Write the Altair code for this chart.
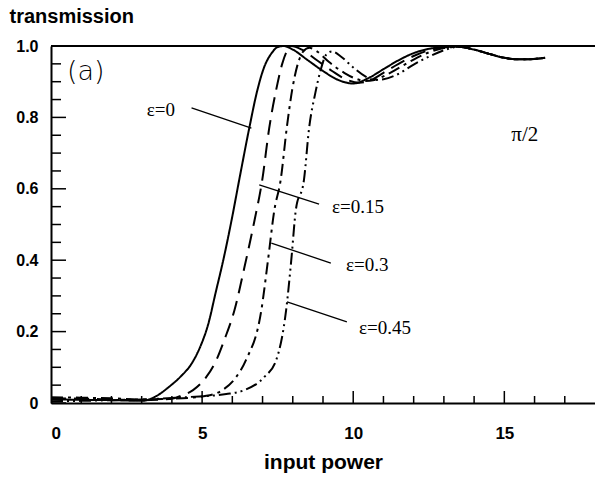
import altair as alt
import pandas as pd

# ---- curve data ----
x_e0 = [0, 1, 2, 3, 3.5, 3.9, 4.3, 4.65, 4.95, 5.2, 5.45, 5.7, 5.97, 6.25, 6.56, 6.83, 7.05,
        7.3, 7.5, 7.7, 8.0, 8.5, 9.0, 9.5, 10.0, 10.5, 11.0, 11.5, 12.0, 12.5, 13.0, 13.5,
        14.0, 14.5, 15.0, 15.4, 15.8, 16.35]
y_e0 = [0.010, 0.009, 0.008, 0.006, 0.02, 0.045, 0.075, 0.11, 0.16, 0.22, 0.31, 0.40, 0.51,
        0.635, 0.77, 0.877, 0.94, 0.98, 0.997, 1.0, 0.99, 0.96, 0.93, 0.905, 0.895, 0.91,
        0.935, 0.96, 0.98, 0.992, 0.997, 0.998, 0.99, 0.978, 0.967, 0.963, 0.963, 0.967]

x_e15 = [0, 1, 2, 3, 4, 4.3, 4.7, 5.14, 5.47, 5.75, 6.07, 6.4, 6.73, 6.99, 7.22, 7.45, 7.65,
         7.8, 7.95, 8.3, 8.8, 9.3, 9.8, 10.2, 10.6, 11.0, 11.5, 12.0, 12.5, 13.0, 13.5, 14.0,
         14.5, 15.0, 15.4, 15.8, 16.35]
y_e15 = [0.013, 0.012, 0.010, 0.008, 0.012, 0.02, 0.036, 0.073, 0.12, 0.18, 0.26, 0.38, 0.51,
         0.625, 0.77, 0.877, 0.95, 0.985, 1.0, 0.99, 0.96, 0.93, 0.905, 0.897, 0.905, 0.925,
         0.95, 0.972, 0.988, 0.996, 0.998, 0.99, 0.978, 0.967, 0.963, 0.963, 0.967]

x_e30 = [0, 1, 2, 3, 4, 5.14, 5.67, 6.13, 6.45, 6.96, 7.18, 7.39, 7.6, 7.8, 7.98, 8.15, 8.35,
         8.55, 8.8, 9.2, 9.7, 10.1, 10.4, 10.7, 11.0, 11.5, 12.0, 12.5, 13.0, 13.5, 14.0,
         14.5, 15.0, 15.4, 15.8, 16.35]
y_e30 = [0.016, 0.015, 0.013, 0.010, 0.012, 0.02, 0.036, 0.073, 0.12, 0.26, 0.40, 0.54, 0.625,
         0.77, 0.877, 0.945, 0.985, 0.995, 0.985, 0.955, 0.925, 0.908, 0.902, 0.905, 0.915,
         0.938, 0.962, 0.982, 0.994, 0.998, 0.99, 0.978, 0.967, 0.963, 0.963, 0.967]

x_e45 = [0, 1, 2, 3, 4, 4.6, 5.8, 6.4, 7.06, 7.45, 7.78, 7.95, 8.1, 8.37, 8.54, 8.75, 8.93,
         9.1, 9.3, 9.6, 10.0, 10.4, 10.7, 11.0, 11.5, 12.0, 12.5, 13.0, 13.5, 14.0, 14.5,
         15.0, 15.4, 15.8, 16.35]
y_e45 = [0.005, 0.006, 0.008, 0.010, 0.014, 0.017, 0.025, 0.036, 0.073, 0.12, 0.26, 0.40,
         0.54, 0.625, 0.77, 0.87, 0.935, 0.975, 0.985, 0.97, 0.94, 0.915, 0.905, 0.907,
         0.922, 0.948, 0.97, 0.988, 0.998, 0.99, 0.978, 0.967, 0.963, 0.963, 0.967]

eps_labels = ["ε=0", "ε=0.15", "ε=0.3", "ε=0.45"]

# ---- annotations ----
lab_x = [3.17, 9.30, 9.76, 10.19]
lab_y = [0.821, 0.549, 0.387, 0.21]
lead_x1 = [4.65, 6.89, 7.29, 7.81]
lead_y1 = [0.827, 0.611, 0.448, 0.283]
lead_x2 = [6.63, 8.87, 9.26, 9.79]
lead_y2 = [0.77, 0.557, 0.392, 0.227]

# ---- ticks ----
y_major = [0, 0.2, 0.4, 0.6, 0.8, 1.0]
y_minor = [0.05, 0.1, 0.15, 0.25, 0.3, 0.35, 0.45, 0.5, 0.55, 0.65, 0.7, 0.75, 0.85, 0.9, 0.95]
x_major = [5, 10, 15]
x_minor = [1, 2, 3, 4, 6, 7, 8, 9, 11, 12, 13, 14, 16, 17]

rows = []
for name, xs_, ys_ in zip(eps_labels, [x_e0, x_e15, x_e30, x_e45], [y_e0, y_e15, y_e30, y_e45]):
    for i, (a, b) in enumerate(zip(xs_, ys_)):
        rows.append({"x": a, "y": b, "eps": name, "order": i})
curves = pd.DataFrame(rows)

W, H = 544, 357
xs = alt.Scale(domain=[0, 18], nice=False)
ys = alt.Scale(domain=[0, 1.0], nice=False)

base_x = alt.X("x:Q", scale=xs, axis=alt.Axis(
    values=[0, 5, 10, 15], format="d", ticks=False, grid=False, domainColor="black",
    domainWidth=2, labelFont="Liberation Sans", labelFontWeight="bold", labelFontSize=17,
    labelColor="black", labelPadding=22, title="input power", titleFont="Liberation Sans",
    titleFontWeight="bold", titleFontSize=21, titleColor="black", titlePadding=10))
base_y = alt.Y("y:Q", scale=ys, axis=alt.Axis(
    values=y_major, ticks=False, grid=False, domainColor="black", domainWidth=2,
    labelExpr="datum.value == 0 ? '0' : format(datum.value, '.1f')",
    labelFont="Liberation Sans", labelFontWeight="bold", labelFontSize=16, labelColor="black",
    labelPadding=13, title="transmission", titleAngle=0, titleX=-42, titleY=-24,
    titleAlign="left", titleBaseline="alphabetic", titleFont="Liberation Sans",
    titleFontWeight="bold", titleFontSize=20, titleColor="black"))

lines = alt.Chart(curves).mark_line(color="black", strokeWidth=2, interpolate="monotone").encode(
    x=base_x, y=base_y, order="order:Q",
    strokeDash=alt.StrokeDash("eps:N", scale=alt.Scale(
        domain=eps_labels, range=[[1, 0], [15, 8], [12, 5, 3, 5], [12, 4, 2, 4, 2, 4]]),
        legend=None),
    detail="eps:N")

top = alt.Chart(pd.DataFrame({"y": [1.0]})).mark_rule(color="black", strokeWidth=2).encode(
    y=alt.Y("y:Q", scale=ys), x=alt.value(0), x2=alt.value(W))

ytm = alt.Chart(pd.DataFrame({"y": y_major})).mark_rule(color="black", strokeWidth=1.5).encode(
    y=alt.Y("y:Q", scale=ys), x=alt.value(0), x2=alt.value(15))
ytn = alt.Chart(pd.DataFrame({"y": y_minor})).mark_rule(color="black", strokeWidth=1.5).encode(
    y=alt.Y("y:Q", scale=ys), x=alt.value(0), x2=alt.value(10))
xtm = alt.Chart(pd.DataFrame({"x": x_major})).mark_rule(color="black", strokeWidth=1.5).encode(
    x=alt.X("x:Q", scale=xs), y=alt.value(H), y2=alt.value(H - 12))
xtn = alt.Chart(pd.DataFrame({"x": x_minor})).mark_rule(color="black", strokeWidth=1.5).encode(
    x=alt.X("x:Q", scale=xs), y=alt.value(H), y2=alt.value(H - 7))

leaders = alt.Chart(pd.DataFrame({"x1": lead_x1, "y1": lead_y1, "x2": lead_x2, "y2": lead_y2})).mark_rule(
    color="black", strokeWidth=1.3).encode(
    x=alt.X("x1:Q", scale=xs), y=alt.Y("y1:Q", scale=ys), x2="x2:Q", y2="y2:Q")

labels = alt.Chart(pd.DataFrame({"x": lab_x, "y": lab_y, "t": eps_labels})).mark_text(
    align="left", baseline="middle", font="Liberation Serif", fontSize=19, color="black").encode(
    x=alt.X("x:Q", scale=xs), y=alt.Y("y:Q", scale=ys), text="t:N")

pi_lab = alt.Chart(pd.DataFrame({"x": [15.23], "y": [0.75], "t": ["π/2"]})).mark_text(
    align="left", baseline="middle", font="Liberation Serif", fontSize=21, color="black").encode(
    x=alt.X("x:Q", scale=xs), y=alt.Y("y:Q", scale=ys), text="t:N")

a_lab = alt.Chart(pd.DataFrame({"x": [0.53], "y": [0.927], "t": ["(a)"]})).mark_text(
    align="left", baseline="middle", font="DejaVu Sans", fontWeight=300, fontSize=27,
    color="black").encode(
    x=alt.X("x:Q", scale=xs), y=alt.Y("y:Q", scale=ys), text="t:N")

chart = alt.layer(lines, top, ytm, ytn, xtm, xtn, leaders, labels, pi_lab, a_lab).properties(
    width=W, height=H, autosize=alt.AutoSizeParams(type="none"),
    padding={"left": 51, "top": 46, "right": 0, "bottom": 74},
    background="white"
).configure_view(strokeWidth=0)

chart.save("out.html", embed_options={"renderer": "svg", "actions": False})
